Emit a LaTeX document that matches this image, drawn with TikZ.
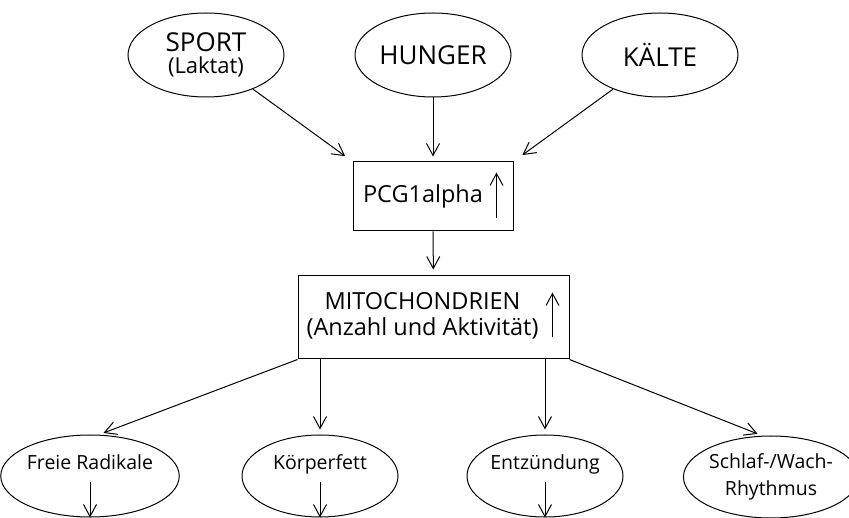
\documentclass[tikz,border=0pt]{standalone}
\usepackage{fontspec}
\setmainfont{Open Sans}
\usetikzlibrary{shapes.geometric,
				arrows.meta,
				calc}

\tikzset{
	oval/.style={draw, ellipse, minimum width=156pt, minimum height=84pt, inner sep=0pt, align=center},
	kasten/.style={draw, rectangle, inner sep=0pt},
	pfeil/.style={->, >={Straight Barb[length=12pt, width=13pt]}},
	gross/.style={font=\fontsize{26}{26}\selectfont},
	mittel/.style={font=\fontsize{23.5}{26}\selectfont},
	klein/.style={font=\fontsize{19.5}{27}\selectfont},
}

\begin{document}
\begin{tikzpicture}[x=1pt, y=-1pt, line width=1pt]
\useasboundingbox (0,0) rectangle (849,518);

% Ausloeser
\node[oval, gross] (sport) at (206,55) {SPORT\\[-4pt]{\fontsize{22}{22}\selectfont (Laktat)}};
\node[oval, gross] (hunger) at (433,55) {HUNGER};
\node[oval, gross] (kaelte) at (660,55) {KÄLTE};

\node[kasten, mittel, minimum width=160pt, minimum height=69pt] (pcg) at (433,196.5) {PCG1alpha\kern20pt};
\node[kasten, mittel, minimum width=271pt, minimum height=83pt] (mito) at (433.5,317.5)
	{\begin{tabular}{@{}c@{}}MITOCHONDRIEN\\(Anzahl und Aktivität)\end{tabular}\kern22pt};

% Folgen
\node[oval, klein, minimum height=82pt, text height=14pt, text depth=27pt] (freie) at (90,476) {Freie Radikale};
\node[oval, klein, minimum height=82pt, text height=14pt, text depth=27pt] (koerper) at (320,476) {Körperfett};
\node[oval, klein, minimum height=82pt, text height=14pt, text depth=27pt] (entz) at (545,476) {Entzündung};
\node[oval, klein, minimum height=82pt] (schlaf) at (771,477) {Schlaf-/Wach-\\Rhythmus};

\draw[pfeil, shorten >=9pt] (sport) -- (pcg.north west);
\draw[pfeil, shorten >=5pt] (hunger) -- (pcg);
\draw[pfeil, shorten >=11pt] (kaelte) -- (pcg.north east);
\draw[pfeil, shorten >=6pt] (pcg) -- (mito);

\draw[pfeil] ([xshift=-17pt, yshift=13pt]pcg.south east) -- ([xshift=-17pt, yshift=-11pt]pcg.north east);
\draw[pfeil] ([xshift=-17pt, yshift=22pt]mito.south east) -- ([xshift=-17pt, yshift=-17pt]mito.north east);

\draw[pfeil, shorten >=5pt] (mito.south west) -- (freie.78);
\draw[pfeil, shorten >=5pt] (mito.south -| koerper) -- (koerper.north);
\draw[pfeil, shorten >=5pt] (mito.south -| entz) -- (entz.north);
\draw[pfeil, shorten >=5pt] (mito.south east) -- (schlaf.102);

\foreach \n in {freie, koerper, entz} {
	\draw[pfeil] ([yshift=-6pt]\n.center) -- (\n.south);
}

\end{tikzpicture}
\end{document}
